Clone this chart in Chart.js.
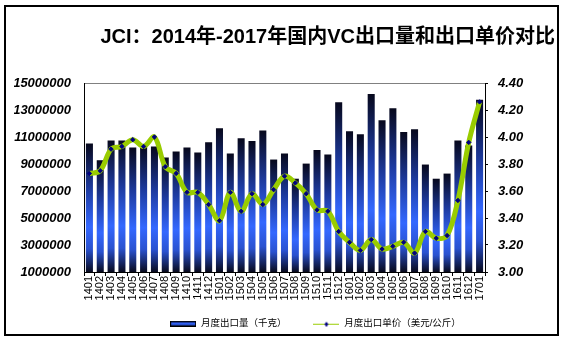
<!DOCTYPE html>
<html lang="zh">
<head>
    <meta charset="UTF-8">
    <title>JCI：2014年-2017年国内VC出口量和出口单价对比</title>
    <style>
        body {
            margin: 0;
            background: #ffffff;
        }
        .wrap {
            position: relative;
            width: 562px;
            height: 341px;
        }
        #chart {
            position: absolute;
            left: 0;
            top: 0;
        }
        .frame {
            position: absolute;
            left: 4px;
            top: 5px;
            width: 551px;
            height: 327px;
            border: 2px solid #000;
            pointer-events: none;
        }
    </style>
</head>
<body>
    <div class="wrap">
        <canvas id="chart" width="562" height="341"></canvas>
        <div class="frame"></div>
    </div>

    <script src="https://cdn.jsdelivr.net/npm/chart.js"></script>
    <script>
        // 月份
        const months = [
            '1401', '1402', '1403', '1404', '1405', '1406', '1407', '1408', '1409', '1410', '1411', '1412',
            '1501', '1502', '1503', '1504', '1505', '1506', '1507', '1508', '1509', '1510', '1511', '1512',
            '1601', '1602', '1603', '1604', '1605', '1606', '1607', '1608', '1609', '1610', '1611', '1612',
            '1701'
        ];

        // 月度出口量（千克）
        const exportVolume = [
            10520000, 9280000, 10750000, 10750000, 10220000, 10370000, 10300000, 9480000, 9930000, 10230000, 9850000, 10620000,
            11640000, 9780000, 10900000, 10700000, 11490000, 9330000, 9780000, 7910000, 9030000, 10030000, 9700000, 13580000,
            11420000, 11200000, 14180000, 12240000, 13130000, 11370000, 11570000, 8960000, 7910000, 8290000, 10750000, 10370000,
            13760000
        ];

        // 月度出口单价（美元/公斤）
        const exportPrice = [
            3.73, 3.75, 3.91, 3.93, 3.98, 3.93, 4.00, 3.78, 3.73, 3.59, 3.59, 3.50,
            3.38, 3.59, 3.45, 3.58, 3.50, 3.61, 3.71, 3.66, 3.58, 3.46, 3.45, 3.30,
            3.22, 3.16, 3.24, 3.17, 3.19, 3.22, 3.14, 3.30, 3.25, 3.27, 3.53, 3.96,
            4.26
        ];

        const FONT = '"Liberation Sans", "Noto Sans CJK SC", sans-serif';
        const GREEN = '#99cc00';
        const NAVY = '#000080';

        // degradado por barra: oscuro arriba, azul en medio, oscuro abajo
        function barFill(c) {
            const chart = c.chart;
            const area = chart.chartArea;
            if (!area || c.raw == null) return '#2f5ef0';
            const top = chart.scales.y.getPixelForValue(c.raw);
            const g = chart.ctx.createLinearGradient(0, top, 0, area.bottom);
            g.addColorStop(0, '#07081c');
            g.addColorStop(0.35, '#1d3a9e');
            g.addColorStop(0.65, '#3468ff');
            g.addColorStop(0.82, '#2a52d0');
            g.addColorStop(1, '#080a1e');
            return g;
        }

        // muestras de la leyenda
        function barSwatch() {
            const cv = document.createElement('canvas');
            cv.width = 26; cv.height = 6;
            const x = cv.getContext('2d');
            x.fillStyle = '#000';
            x.fillRect(0, 0, 26, 6);
            x.fillStyle = '#2f5ef0';
            x.fillRect(1, 1.5, 24, 3);
            return cv;
        }
        function lineSwatch() {
            const cv = document.createElement('canvas');
            cv.width = 26; cv.height = 6;
            const x = cv.getContext('2d');
            x.strokeStyle = GREEN;
            x.lineWidth = 1;
            x.beginPath();
            x.moveTo(0, 3.5); x.lineTo(26, 3.5);
            x.stroke();
            x.fillStyle = NAVY;
            x.beginPath();
            x.moveTo(13, 1); x.lineTo(15, 3.5); x.lineTo(13, 6); x.lineTo(11, 3.5);
            x.closePath();
            x.fill();
            return cv;
        }
        const swatches = [barSwatch(), lineSwatch()];

        // mover la leyenda un poco (a la derecha y arriba) como en el original
        const legendShift = {
            id: 'legendShift',
            afterLayout(chart) {
                const lg = chart.legend;
                if (!lg) return;
                lg.left += 31; lg.right += 31;
                lg.top -= 8; lg.bottom -= 8;
            }
        };

        const ctx = document.getElementById('chart').getContext('2d');
        const chart = new Chart(ctx, {
            data: {
                labels: months,
                datasets: [
                    {
                        type: 'bar',
                        label: '月度出口量（千克）',
                        data: exportVolume,
                        yAxisID: 'y',
                        backgroundColor: barFill,
                        borderWidth: 0,
                        barPercentage: 0.65,
                        categoryPercentage: 1,
                        order: 2
                    },
                    {
                        type: 'line',
                        label: '月度出口单价（美元/公斤）',
                        data: exportPrice,
                        yAxisID: 'y1',
                        borderColor: GREEN,
                        borderWidth: 5,
                        tension: 0.35,
                        fill: false,
                        pointStyle: 'rectRot',
                        pointRadius: 2.2,
                        pointBackgroundColor: NAVY,
                        pointBorderColor: NAVY,
                        pointBorderWidth: 1,
                        order: 1
                    }
                ]
            },
            plugins: [legendShift],
            options: {
                responsive: false,
                animation: false,
                devicePixelRatio: 1,
                layout: {
                    padding: { top: 25, left: 14, right: 7, bottom: 0 }
                },
                plugins: {
                    title: {
                        display: true,
                        text: 'JCI：2014年-2017年国内VC出口量和出口单价对比',
                        align: 'end',
                        color: '#000',
                        font: { family: FONT, size: 20, weight: 'bold', lineHeight: 1.2 },
                        padding: { top: 0, bottom: 34 }
                    },
                    legend: {
                        position: 'bottom',
                        maxHeight: 41,
                        labels: {
                            usePointStyle: true,
                            pointStyleWidth: 26,
                            padding: 27,
                            color: '#000',
                            font: { family: FONT, size: 9.5 },
                            sort: (a, b) => a.datasetIndex - b.datasetIndex,
                            generateLabels: (ch) => {
                                const items = Chart.defaults.plugins.legend.labels.generateLabels(ch);
                                items.forEach((it) => { it.pointStyle = swatches[it.datasetIndex]; });
                                return items;
                            }
                        }
                    },
                    tooltip: { enabled: false }
                },
                scales: {
                    x: {
                        type: 'category',
                        afterFit: (s) => { s.height = 28; },
                        grid: {
                            offset: true,
                            drawOnChartArea: false,
                            tickLength: 4,
                            color: '#000'
                        },
                        border: { color: '#000', width: 1 },
                        ticks: {
                            autoSkip: false,
                            maxRotation: 90,
                            minRotation: 90,
                            padding: 0,
                            color: '#000',
                            font: { family: FONT, size: 11 }
                        }
                    },
                    y: {
                        position: 'left',
                        min: 1000000,
                        max: 15000000,
                        afterFit: (s) => { s.width = 70; },
                        grid: {
                            drawTicks: false,
                            color: (c) => c.tick && c.tick.value === 15000000 ? '#808080' : 'rgba(0,0,0,0)'
                        },
                        border: { color: '#000', width: 1 },
                        ticks: {
                            stepSize: 2000000,
                            padding: 13,
                            color: '#000',
                            font: { family: FONT, size: 13, weight: 'bold', style: 'italic' },
                            callback: (v) => String(v)
                        }
                    },
                    y1: {
                        position: 'right',
                        min: 3.0,
                        max: 4.4,
                        afterFit: (s) => { s.width = 70; },
                        grid: {
                            drawOnChartArea: false,
                            tickLength: 3,
                            color: '#000'
                        },
                        border: { color: '#000', width: 1 },
                        ticks: {
                            stepSize: 0.2,
                            padding: 10,
                            color: '#000',
                            font: { family: FONT, size: 13, weight: 'bold', style: 'italic' },
                            callback: (v) => Number(v).toFixed(2)
                        }
                    }
                }
            }
        });
    </script>
</body>
</html>
